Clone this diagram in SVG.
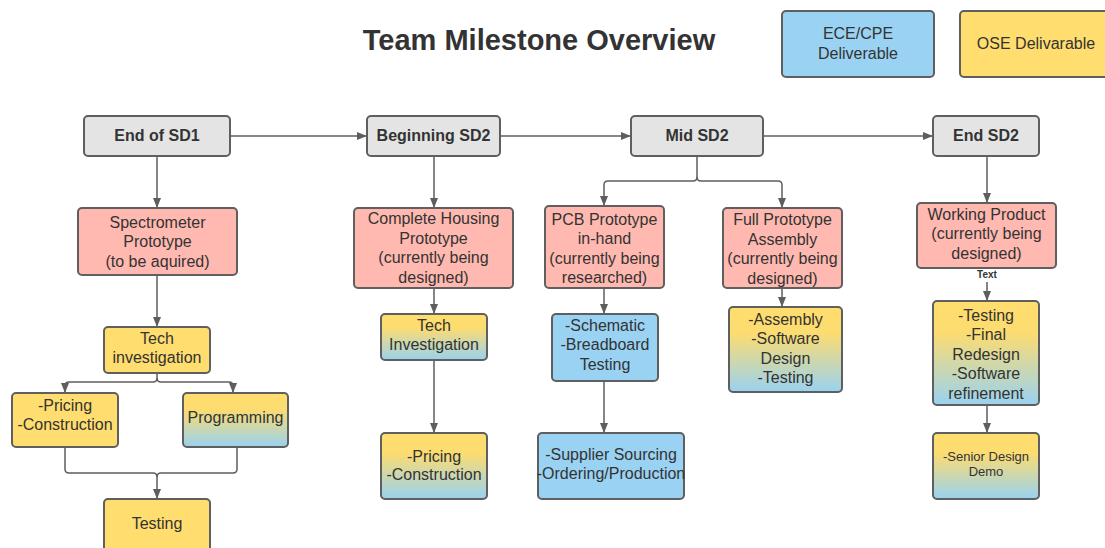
<svg xmlns="http://www.w3.org/2000/svg" width="1105" height="548" viewBox="0 0 1105 548">
<defs>
<linearGradient id="yb" x1="0" y1="0" x2="0" y2="1">
<stop offset="0" stop-color="#ffdd6e"/>
<stop offset="0.3" stop-color="#fddc70"/>
<stop offset="1" stop-color="#99d2f1"/>
</linearGradient>
<marker id="ah" markerUnits="userSpaceOnUse" markerWidth="10" markerHeight="10" viewBox="0 0 10 10" refX="10" refY="5" orient="auto">
<path d="M0,1 L10,5 L0,9 Z" fill="#5e5e5e"/>
</marker>
</defs>
<style>
.box{stroke:#5f5f5f;stroke-width:2}
.grey{fill:#e4e4e4}
.pink{fill:#ffb9b0}
.yel{fill:#ffdd6e}
.blue{fill:#99d2f2}
.grad{fill:url(#yb)}
text{font-family:"Liberation Sans",Arial,sans-serif;fill:#333;text-anchor:middle}
.t{font-size:16px}
.h{font-size:16px;font-weight:bold}
.s{font-size:13px}
.c{fill:none;stroke:#5e5e5e;stroke-width:1.5}
.a{marker-end:url(#ah)}
</style>
<rect width="1105" height="548" fill="#ffffff"/>
<text x="539" y="50" style="font-size:29px;font-weight:bold">Team Milestone Overview</text>

<g id="connectors">
<path class="c a" d="M230,136 H367"/>
<path class="c a" d="M500,136 H631"/>
<path class="c a" d="M763,136 H933"/>
<path class="c a" d="M157,156 V208"/>
<path class="c a" d="M157,275 V327"/>
<path class="c a" d="M157,373 V378 Q157,382 153,382 H69 Q65,382 65,386 V393"/>
<path class="c a" d="M157,378 Q157,382 161,382 H229 Q233,382 233,386 V393"/>
<path class="c" d="M65,447 V469 Q65,473 69,473 H153 Q157,473 157,477"/>
<path class="c a" d="M237,447 V469 Q237,473 233,473 H161 Q157,473 157,477 V499"/>
<path class="c a" d="M434,156 V208"/>
<path class="c a" d="M434,288 V314"/>
<path class="c a" d="M434,360 V433"/>
<path class="c a" d="M697,156 V177 Q697,181 693,181 H608 Q604,181 604,185 V206"/>
<path class="c a" d="M697,177 Q697,181 701,181 H778 Q782,181 782,185 V208"/>
<path class="c a" d="M604,288 V314"/>
<path class="c a" d="M604,381 V433"/>
<path class="c a" d="M782,288 V307"/>
<path class="c a" d="M987,156 V203"/>
<path class="c a" d="M987,282 V301"/>
<path class="c a" d="M987,405 V433"/>
</g>

<g id="legend-ece">
<rect class="box blue" x="782" y="11" width="152" height="66" rx="4"/>
<text class="t" x="858" y="39">ECE/CPE</text>
<text class="t" x="858" y="59">Deliverable</text>
</g>
<g id="legend-ose">
<rect class="box yel" x="960" y="11" width="152" height="66" rx="4"/>
<text class="t" x="1036" y="49">OSE Delivarable</text>
</g>

<g id="end-sd1">
<rect class="box grey" x="84" y="116" width="146" height="40" rx="4"/>
<text class="h" x="157" y="141">End of SD1</text>
</g>
<g id="beginning-sd2">
<rect class="box grey" x="367" y="116" width="133" height="40" rx="4"/>
<text class="h" x="433.5" y="141">Beginning SD2</text>
</g>
<g id="mid-sd2">
<rect class="box grey" x="631" y="116" width="132" height="40" rx="4"/>
<text class="h" x="697" y="141">Mid SD2</text>
</g>
<g id="end-sd2">
<rect class="box grey" x="933" y="116" width="106" height="40" rx="4"/>
<text class="h" x="986" y="141">End SD2</text>
</g>

<g id="spectrometer">
<rect class="box pink" x="78" y="208" width="159" height="67" rx="4"/>
<text class="t" x="157.5" y="227.6">Spectrometer</text>
<text class="t" x="157.5" y="247.1">Prototype</text>
<text class="t" x="157.5" y="266.6">(to be aquired)</text>
</g>
<g id="tech-investigation-1">
<rect class="box yel" x="104" y="327" width="106" height="46" rx="4"/>
<text class="t" x="157" y="343.6">Tech</text>
<text class="t" x="157" y="362.6">investigation</text>
</g>
<g id="pricing-1">
<rect class="box yel" x="12" y="393" width="106" height="54" rx="4"/>
<text class="t" x="65" y="410.6">-Pricing</text>
<text class="t" x="65" y="429.6">-Construction</text>
</g>
<g id="programming">
<rect class="box grad" x="183" y="393" width="105" height="54" rx="4"/>
<text class="t" x="235.5" y="422.6">Programming</text>
</g>
<g id="testing-1">
<rect class="box yel" x="104" y="499" width="106" height="60" rx="4"/>
<text class="t" x="157" y="528.6">Testing</text>
</g>

<g id="housing">
<rect class="box pink" x="354" y="208" width="159" height="80" rx="4"/>
<text class="t" x="433.5" y="224.4">Complete Housing</text>
<text class="t" x="433.5" y="243.9">Prototype</text>
<text class="t" x="433.5" y="263.4">(currently being</text>
<text class="t" x="433.5" y="282.9">designed)</text>
</g>
<g id="tech-investigation-2">
<rect class="box grad" x="381" y="314" width="106" height="46" rx="4"/>
<text class="t" x="434" y="331.1">Tech</text>
<text class="t" x="434" y="350.1">Investigation</text>
</g>
<g id="pricing-2">
<rect class="box grad" x="381" y="433" width="106" height="66" rx="4"/>
<text class="t" x="434" y="461.6">-Pricing</text>
<text class="t" x="434" y="480.1">-Construction</text>
</g>

<g id="pcb">
<rect class="box pink" x="545" y="206" width="119" height="82" rx="4"/>
<text class="t" x="604.5" y="224.6">PCB Prototype</text>
<text class="t" x="604.5" y="244.1">in-hand</text>
<text class="t" x="604.5" y="263.6">(currently being</text>
<text class="t" x="604.5" y="283.1">researched)</text>
</g>
<g id="schematic">
<rect class="box blue" x="552" y="314" width="106" height="67" rx="4"/>
<text class="t" x="605" y="330.6">-Schematic</text>
<text class="t" x="605" y="350.1">-Breadboard</text>
<text class="t" x="605" y="369.6">Testing</text>
</g>
<g id="supplier">
<rect class="box blue" x="538" y="433" width="146" height="66" rx="4"/>
<text class="t" x="611" y="460.1">-Supplier Sourcing</text>
<text class="t" x="611" y="479.1">-Ordering/Production</text>
</g>

<g id="full-prototype">
<rect class="box pink" x="723" y="208" width="119" height="80" rx="4"/>
<text class="t" x="782.5" y="225.4">Full Prototype</text>
<text class="t" x="782.5" y="244.9">Assembly</text>
<text class="t" x="782.5" y="264.4">(currently being</text>
<text class="t" x="782.5" y="283.9">designed)</text>
</g>
<g id="assembly">
<rect class="box grad" x="729" y="307" width="113" height="85" rx="4"/>
<text class="t" x="785.5" y="324.6">-Assembly</text>
<text class="t" x="785.5" y="344.1">-Software</text>
<text class="t" x="785.5" y="363.6">Design</text>
<text class="t" x="785.5" y="383.1">-Testing</text>
</g>

<g id="working-product">
<rect class="box pink" x="917" y="203" width="139" height="65" rx="4"/>
<text class="t" x="986.5" y="219.6">Working Product</text>
<text class="t" x="986.5" y="239.1">(currently being</text>
<text class="t" x="986.5" y="258.6">designed)</text>
</g>
<text x="987" y="277.5" style="font-size:10px;font-weight:bold">Text</text>
<g id="testing-2">
<rect class="box grad" x="933" y="301" width="106" height="104" rx="4"/>
<text class="t" x="986" y="320.6">-Testing</text>
<text class="t" x="986" y="340.1">-Final</text>
<text class="t" x="986" y="359.6">Redesign</text>
<text class="t" x="986" y="379.1">-Software</text>
<text class="t" x="986" y="398.6">refinement</text>
</g>
<g id="senior-design">
<rect class="box grad" x="933" y="433" width="106" height="66" rx="4"/>
<text class="s" x="986" y="460.5">-Senior Design</text>
<text class="s" x="986" y="475.5">Demo</text>
</g>
</svg>
